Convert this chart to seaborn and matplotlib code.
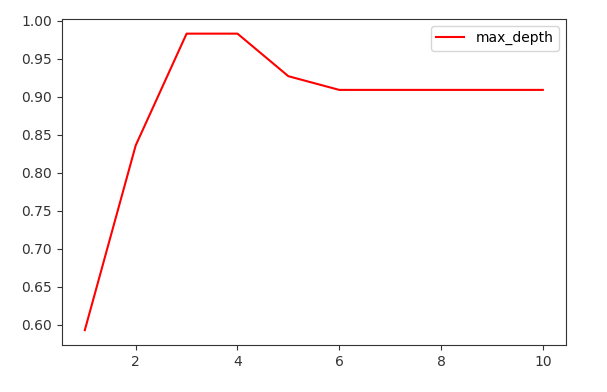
import matplotlib
matplotlib.use("Agg")
import matplotlib.pyplot as plt
import seaborn as sns
import pandas as pd

depths = [1, 2, 3, 4, 5, 6, 7, 8, 9, 10]
scores = [0.593, 0.836, 0.983, 0.983, 0.927, 0.909, 0.909, 0.909, 0.909, 0.909]

plt.rcParams['font.family'] = ['DejaVu Sans']
fig = plt.figure(figsize=(6.07, 3.92), dpi=100)
ax = fig.add_axes([0.102, 0.12, 0.83, 0.832])
df = pd.DataFrame({"max_depth": depths, "score": scores})
sns.lineplot(data=df, x="max_depth", y="score", color="red", label="max_depth", ax=ax, linewidth=1.5)
ax.set_xlabel("")
ax.set_ylabel("")
ax.set_xticks([2, 4, 6, 8, 10])
ax.set_yticks([0.60, 0.65, 0.70, 0.75, 0.80, 0.85, 0.90, 0.95, 1.00])
ax.set_yticklabels([f"{v:.2f}" for v in ax.get_yticks()])
ax.tick_params(labelsize=10, colors="#333333")
for s in ax.spines.values():
    s.set_color("#333333")
ax.legend(loc="upper right", fontsize=10)
fig.savefig("out.png", dpi=100)
